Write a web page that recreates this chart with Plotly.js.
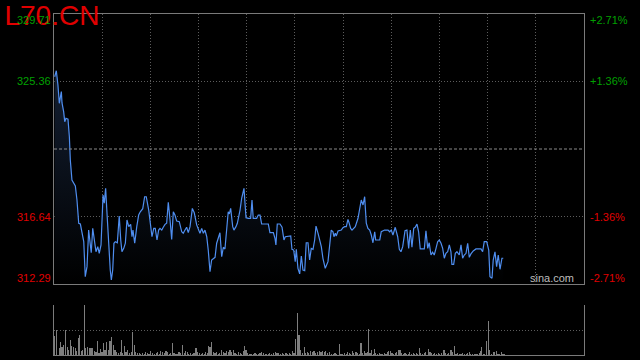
<!DOCTYPE html>
<html><head><meta charset="utf-8">
<script src="https://cdn.plot.ly/plotly-3.0.1.min.js"></script>
<style>html,body{margin:0;padding:0;background:#000;}#c{width:640px;height:360px;}</style>
</head><body><div id="c"></div>
<script>
// ---- data (minutes from session open, price) ----
const symbol = 'L70.CN';
const prevClose = 321.00;
const priceMin = 312.29, priceMax = 329.71;
const sessionMinutes = 390;
const priceTime = [0.5,1.7,2.9,3.9,5.4,5.9,7.1,7.9,8.8,10.3,11.3,12.0,13.2,14.5,15.7,16.9,18.2,19.4,20.6,21.9,23.0,24.3,25.5,26.7,27.4,28.5,29.7,30.9,32.2,33.3,34.6,35.3,36.1,37.0,38.0,39.0,40.2,41.4,42.2,43.2,44.1,45.1,46.6,48.0,49.1,50.0,51.3,52.5,53.7,55.0,56.4,57.4,58.1,59.4,60.9,62.3,63.5,65.3,66.7,67.9,69.7,70.9,72.1,73.4,74.5,75.8,77.0,78.0,79.3,80.4,81.7,82.9,84.1,85.4,86.6,87.8,89.0,90.3,92.2,94.0,95.1,96.4,97.6,98.8,100.1,101.8,103.2,105.0,106.2,107.4,108.7,109.9,111.1,112.4,113.5,114.8,116.0,117.2,118.5,119.7,120.9,122.1,123.4,124.6,125.8,127.1,128.2,129.0,130.0,131.5,132.4,133.9,134.9,136.9,138.1,139.8,140.5,141.3,143.0,144.7,145.7,146.6,149.1,150.3,151.6,152.8,155.3,157.7,158.9,161.4,162.6,163.3,164.3,166.3,167.8,169.2,170.2,172.2,174.2,175.1,176.4,177.5,178.3,179.5,180.8,182.0,183.2,184.5,185.6,186.9,188.1,189.3,190.6,191.8,192.8,194.3,195.5,196.7,197.9,199.6,201.6,202.9,204.0,205.3,206.0,207.0,207.7,209.0,211.4,212.6,213.9,215.1,216.3,217.1,218.3,219.3,220.5,221.7,223.7,224.9,226.1,227.4,228.6,229.8,231.0,232.3,233.5,234.7,236.0,236.7,238.4,239.7,240.8,243.3,245.8,247.0,248.2,249.4,251.1,252.9,254.1,255.3,256.6,258.3,259.7,261.0,262.2,263.4,264.7,265.8,267.1,268.3,269.5,271.3,272.5,273.7,275.0,276.1,277.4,278.6,279.8,281.1,282.3,283.5,284.8,286.0,287.2,288.4,289.7,290.9,292.1,292.8,294.1,295.3,296.5,298.2,299.5,300.7,301.9,303.2,304.4,305.6,306.8,308.5,310.5,312.5,314.2,315.4,316.6,318.4,319.9,320.8,322.3,323.2,324.5,325.7,326.9,328.2,329.6,330.6];
const priceValue = [325.66,326.05,325.13,323.95,324.70,323.97,323.41,322.76,322.98,322.92,321.79,320.29,319.00,318.79,318.61,317.71,316.21,316.16,315.66,315.02,312.76,313.41,315.77,314.81,314.31,315.88,314.92,314.37,314.70,314.27,314.81,316.63,318.03,317.50,318.46,316.85,314.70,313.19,312.55,313.19,314.92,315.02,314.95,316.68,315.13,314.37,314.59,314.92,316.42,315.99,316.14,315.34,315.77,314.92,315.99,316.74,316.95,317.15,317.92,317.92,317.06,316.21,315.34,315.88,315.88,315.13,315.77,315.88,315.77,315.95,316.14,316.21,317.56,316.42,315.17,316.95,316.74,316.35,316.31,315.66,315.56,315.77,315.95,315.60,315.99,317.17,316.89,316.10,315.77,315.56,315.88,315.56,315.77,315.34,314.48,313.08,313.84,313.95,314.01,314.92,315.24,315.60,314.05,314.66,314.55,315.99,316.95,316.81,317.17,315.99,315.77,315.99,316.21,317.06,317.82,318.46,317.71,316.57,316.53,316.53,317.71,316.53,316.53,316.74,316.74,316.16,316.16,316.16,315.60,315.60,315.24,314.81,316.16,316.16,315.95,315.13,315.34,315.39,315.39,314.53,314.48,313.73,314.53,313.30,312.94,314.10,313.19,313.15,314.95,314.95,313.84,314.59,314.53,315.13,316.03,315.56,315.13,314.70,313.95,313.30,313.73,314.81,315.77,315.66,315.34,315.56,315.39,315.71,315.77,315.92,315.99,315.99,316.46,316.25,315.88,315.77,315.88,315.99,316.53,317.24,317.71,317.39,317.92,316.21,315.88,315.77,315.45,314.95,315.66,315.13,315.13,315.13,315.66,315.77,315.77,315.66,315.77,315.45,315.95,315.34,314.53,314.37,314.70,315.73,315.77,314.59,315.77,314.66,315.88,315.95,316.16,315.66,314.55,314.55,314.55,315.73,314.59,314.95,314.16,314.34,314.16,314.59,315.02,315.13,314.92,314.59,313.95,314.27,314.37,314.81,314.37,313.56,313.56,314.27,314.37,314.16,314.81,313.95,314.16,314.27,314.92,314.01,314.23,314.42,314.55,314.55,314.55,314.37,315.02,315.02,314.48,312.76,312.66,313.84,314.37,313.41,314.16,313.24,313.95,313.95];
const volTime = [0.7,2.0,3.9,4.9,5.9,6.8,8.3,9.8,10.8,12.0,13.0,14.2,15.5,16.4,17.9,18.6,19.9,21.1,22.3,23.5,24.8,26.0,27.2,28.5,29.7,30.9,31.9,33.1,34.4,35.3,36.3,37.5,38.8,40.0,41.2,42.2,43.6,44.9,46.1,47.3,48.6,49.5,50.5,51.7,53.0,53.9,55.4,56.7,57.6,58.9,60.1,61.3,62.8,63.8,65.3,66.4,67.5,68.7,69.9,71.2,72.6,73.8,75.1,76.0,77.3,78.5,79.7,81.2,82.4,83.7,84.8,85.9,87.0,88.3,89.8,91.0,92.0,93.2,94.4,95.7,96.9,98.1,99.3,100.6,101.8,103.0,104.5,105.7,106.9,108.2,109.4,110.6,111.8,112.8,113.8,114.8,115.7,117.2,118.5,119.7,120.9,122.1,123.4,124.6,125.8,127.1,128.3,129.5,130.8,131.9,133.2,134.4,135.6,136.9,138.1,139.3,140.0,141.3,142.5,144.2,145.5,146.6,147.9,149.1,150.3,151.6,152.8,154.0,155.3,156.5,157.7,158.9,160.2,161.4,162.8,164.1,165.3,166.8,168.0,169.2,170.7,172.0,173.1,174.2,175.3,176.6,177.8,179.0,180.3,181.5,182.7,184.0,185.2,186.4,187.6,188.9,190.1,191.3,192.6,193.7,195.2,196.5,197.7,198.9,200.1,201.4,202.6,204.3,205.5,206.8,208.0,209.9,211.2,212.4,213.6,214.9,216.1,217.3,218.5,219.5,220.7,222.2,223.5,224.6,225.9,227.1,228.3,229.6,230.8,231.6,232.5,233.8,234.9,235.7,236.9,238.2,239.4,240.6,241.9,243.0,244.3,245.5,246.3,247.4,248.7,249.9,251.1,252.2,253.3,254.6,255.8,257.0,258.3,259.5,260.7,261.7,262.9,264.2,265.4,266.6,267.8,268.8,270.0,271.3,272.5,273.7,275.4,276.7,277.9,279.1,280.3,281.6,282.8,284.0,285.3,287.0,288.2,289.4,290.6,292.1,293.4,294.5,295.8,297.0,298.2,299.5,300.7,301.9,303.2,304.4,305.6,306.8,308.1,309.3,310.5,311.8,312.9,314.0,314.7,315.9,317.1,318.1,319.6,320.6,321.8,323.2,324.3,325.4,326.7,327.9,329.1,330.4,331.6];
const volValue = [38.7,50,14.7,25,16.7,20,51,16.7,10,30,18.7,16.7,14.7,8,34.7,40,8,10,100,13.3,16.7,14.7,13.3,14.7,8,6.7,28,3.3,12,5.3,23.3,10,25.3,10,28,36.7,20,10,5.3,3.3,5.3,30,3.3,18.7,6.7,10,3.3,6.7,46.7,20,5.3,3.3,3.3,1.3,3.3,1.3,5.3,3.3,1.3,8,3.3,1.3,3.3,5.3,1.3,8,5.3,3.3,8,5.3,1.3,3.3,23.3,3.3,1.3,1.3,5.3,3.3,20,3.3,8,5.3,1.3,3.3,1.3,3.3,14.7,5.3,3.3,1.3,3.3,1.3,5.3,3.3,18.7,16.7,26.7,5.3,3.3,5.3,1.3,3.3,10,6.7,3.3,8,5.3,10,6.7,10,3.3,1.3,5.3,3.3,1.3,8,18.7,10,3.3,1.3,1.3,1.3,3.3,1.3,1.3,3.3,5.3,3.3,1.3,1.3,1.3,3.3,1.3,3.3,5.3,3.3,3.3,1.3,3.3,1.3,3.3,1.3,3.3,1.3,8,3.3,32,83.3,40,10,3.3,16.7,3.3,5.3,3.3,8,5.3,8,3.3,5.3,8,5.3,8,5.3,8,3.3,5.3,1.3,1.3,3.3,1.3,22,1.3,1.3,3.3,1.3,5.3,3.3,1.3,8,3.3,6.7,3.3,1.3,23.3,3.3,8,3.3,5.3,51.3,3.3,10,1.3,12,3.3,1.3,3.3,1.3,1.3,3.3,1.3,5.3,8,8,3.3,1.3,3.3,6.7,10,10,3.3,1.3,3.3,1.3,1.3,6.7,1.3,3.3,1.3,3.3,1.3,14.7,3.3,1.3,3.3,6.7,12,5.3,3.3,1.3,3.3,1.3,3.3,1.3,3.3,10,3.3,1.3,3.3,10,5.3,18,1.3,3.3,1.3,1.3,3.3,1.3,1.3,3.3,5.3,1.3,1.3,1.3,1.3,1.3,3.3,8,15.3,1.3,1.3,28,68,10,1.3,5.3,5.3,8,1.3,1.3,5.3,1.3,1.3];
const leftLabels = ['329.71','325.36','316.64','312.29'];
const leftLabelValues = [329.71,325.36,316.64,312.29];
const rightLabels = ['+2.71%','+1.36%','-1.36%','-2.71%'];
const labelColors = ['#00a000','#00a000','#e00000','#e00000'];
const volMax = 100;

// ---- styling ----
const FONT = 'Liberation Sans, Arial, sans-serif';
const gridColor = '#5c5c5c';
const frameColor = '#7a7a7a';
const gridTicks = [];
for (let k = 1; k < 11; k++) gridTicks.push(k * sessionMinutes / 11);

const traces = [
  {type:'scatter', mode:'lines', x: priceTime, y: priceValue, xaxis:'x', yaxis:'y',
   line:{color:'#4f8ef0', width:1.2},
   fill:'tozeroy',
   fillgradient:{type:'vertical', start: priceMin, stop: 326.5,
     colorscale:[[0,'rgb(0,0,0)'],[1,'rgb(20,32,52)']]},
   hoverinfo:'skip'},
  {type:'bar', x: volTime, y: volValue, xaxis:'x2', yaxis:'y2', width:0.8,
   marker:{color:'#7e7e7e', line:{width:0}}, hoverinfo:'skip'}
];

const ann = [];
leftLabelValues.forEach((v,i)=>{
  const ys = i===0 ? -6 : (i===3 ? 6 : 0);
  ann.push({xref:'paper', yref:'y', x:0, y:v, xanchor:'right', yanchor:'middle', xshift:-1, yshift:ys,
    text:leftLabels[i], showarrow:false, font:{family:FONT, size:11, color:labelColors[i]}});
  ann.push({xref:'paper', yref:'y', x:1, y:v, xanchor:'left', yanchor:'middle', xshift:4, yshift:ys,
    text:rightLabels[i], showarrow:false, font:{family:FONT, size:11, color:labelColors[i]}});
});
ann.push({xref:'paper', yref:'y', x:1, y:priceMin, xanchor:'right', yanchor:'middle', xshift:-8, yshift:6,
  text:'sina.com', showarrow:false, font:{family:FONT, size:11, color:'#bdbdbd'}});

const layout = {
  width:640, height:360,
  paper_bgcolor:'#000', plot_bgcolor:'#000',
  margin:{l:54, r:56, t:14, b:5},
  showlegend:false,
  font:{family:FONT, color:'#ccc'},
  title:{text:symbol, x:0.007, xref:'container', xanchor:'left', y:0.985, yref:'container', yanchor:'top',
    font:{family:FONT, size:28, color:'#e00000'}},
  xaxis:{domain:[0,1], range:[0,sessionMinutes], anchor:'y', showline:true, mirror:true, linecolor:frameColor, linewidth:1,
    showgrid:true, gridcolor:gridColor, griddash:'1px,2px', gridwidth:1, tickmode:'array', tickvals:gridTicks,
    showticklabels:false, ticks:'', zeroline:false, fixedrange:true},
  yaxis:{domain:[0.2082,1], range:[priceMin,priceMax], anchor:'x', showline:true, mirror:true, linecolor:frameColor, linewidth:1,
    showgrid:true, gridcolor:gridColor, griddash:'1px,2px', tickmode:'array', tickvals:[leftLabelValues[1], leftLabelValues[2]],
    showticklabels:false, ticks:'', zeroline:false, fixedrange:true},
  xaxis2:{domain:[0,1], range:[0,sessionMinutes], anchor:'y2', showline:true, mirror:false, linecolor:frameColor,
    showgrid:false, showticklabels:false, ticks:'', zeroline:false},
  yaxis2:{domain:[0,0.1466], range:[0,volMax], anchor:'x2', showline:true, mirror:true, linecolor:frameColor,
    showgrid:true, gridcolor:gridColor, griddash:'1px,2px', tickmode:'array', tickvals:[volMax/2, volMax],
    showticklabels:false, ticks:'', zeroline:false},
  bargap:0,
  shapes:[{type:'line', xref:'paper', x0:0, x1:1, yref:'y', y0:prevClose, y1:prevClose,
    line:{color:'#8a8a8a', width:1, dash:'3px,2px'}}],
  annotations: ann
};
Plotly.newPlot('c', traces, layout, {staticPlot:true, displayModeBar:false});
</script></body></html>
